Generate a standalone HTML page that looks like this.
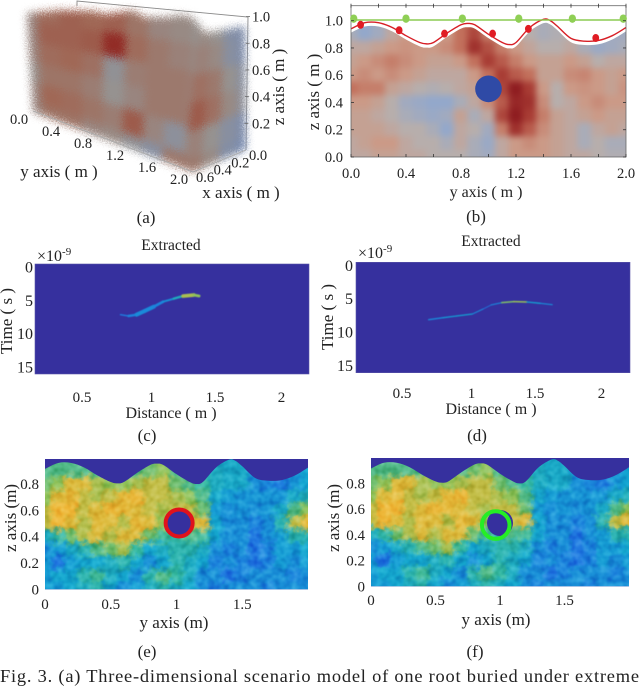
<!DOCTYPE html>
<html lang="en">
<head>
<meta charset="utf-8">
<title>Fig. 3 root detection panels</title>
<style>
html,body{margin:0;padding:0;background:#fff;width:640px;height:686px;overflow:hidden}
svg{display:block}
text{font-family:"Liberation Serif",serif;fill:#222}
</style>
</head>
<body>
<svg id="figure" width="640" height="686" viewBox="0 0 640 686" xmlns="http://www.w3.org/2000/svg">
  <defs>
    <filter id="soft" color-interpolation-filters="sRGB" x="-10%" y="-10%" width="120%" height="120%"><feGaussianBlur stdDeviation="3.2"/></filter>
    <filter id="mottle" color-interpolation-filters="sRGB" x="-10%" y="-10%" width="120%" height="120%">
      <feGaussianBlur in="SourceGraphic" stdDeviation="2" result="b"/>
      <feTurbulence type="fractalNoise" baseFrequency="0.16" numOctaves="3" seed="4" result="n"/>
      <feDisplacementMap in="b" in2="n" scale="11" xChannelSelector="R" yChannelSelector="G" result="d"/>
      <feTurbulence type="fractalNoise" baseFrequency="0.12" numOctaves="2" seed="11" result="m"/>
      <feColorMatrix in="m" type="matrix" values="0.8 0 0 0 0.1  0.8 0 0 0 0.1  0.8 0 0 0 0.1  0 0 0 0 1" result="g"/>
      <feBlend in="g" in2="d" mode="soft-light" result="t"/>
      <feComposite in="t" in2="d" operator="in"/>
    </filter>
    <filter id="grain" color-interpolation-filters="sRGB" x="-10%" y="-10%" width="120%" height="120%">
      <feGaussianBlur in="SourceGraphic" stdDeviation="4" result="b"/>
      <feTurbulence type="fractalNoise" baseFrequency="0.85" numOctaves="2" seed="7" result="n"/>
      <feDisplacementMap in="b" in2="n" scale="11" xChannelSelector="R" yChannelSelector="G"/>
    </filter>
    <filter id="streak" color-interpolation-filters="sRGB" x="-10%" y="-50%" width="120%" height="200%"><feGaussianBlur stdDeviation="0.45"/></filter>
  </defs>

  <g id="panel-a">
    <polyline points="77,6 77,1 248,17 246,150" fill="none" stroke="#8a8a8a" stroke-width="0.9"/>
    <g id="a-cloud" filter="url(#grain)"></g>
    <polyline points="33,111 193,172 246,150" fill="none" stroke="#aaa" stroke-width="0.9"/>
    <g id="a-ticks"></g>
    <text x="59" y="177" font-size="17" text-anchor="middle">y axis ( m )</text>
    <text x="241" y="198" font-size="17" text-anchor="middle">x axis ( m )</text>
    <text transform="translate(284,87) rotate(-90)" font-size="17" text-anchor="middle">z axis ( m )</text>
    <text x="146" y="223" font-size="17" text-anchor="middle">(a)</text>
  </g>

  <g id="panel-b">
    <g id="b-plot"></g>
    <text x="486" y="197" font-size="16" text-anchor="middle">y axis ( m )</text>
    <text x="476" y="222" font-size="17" text-anchor="middle">(b)</text>
    <text transform="translate(319,92) rotate(-90)" font-size="17" text-anchor="middle">z axis ( m )</text>
  </g>

  <g id="panel-c">
    <text x="171" y="250" font-size="15.5" text-anchor="middle">Extracted</text>
    <text x="37" y="261" font-size="16">×10<tspan dy="-6" font-size="11">-9</tspan></text>
    <g id="c-plot"></g>
    <text transform="translate(12,321) rotate(-90)" font-size="17" text-anchor="middle">Time ( s )</text>
    <text x="171" y="418" font-size="16" text-anchor="middle">Distance ( m )</text>
    <text x="147" y="441" font-size="17" text-anchor="middle">(c)</text>
  </g>

  <g id="panel-d">
    <text x="491" y="246" font-size="15.5" text-anchor="middle">Extracted</text>
    <text x="358" y="258" font-size="16">×10<tspan dy="-6" font-size="11">-9</tspan></text>
    <g id="d-plot"></g>
    <text transform="translate(333,317) rotate(-90)" font-size="17" text-anchor="middle">Time ( s )</text>
    <text x="491" y="414" font-size="16" text-anchor="middle">Distance ( m )</text>
    <text x="477" y="441" font-size="17" text-anchor="middle">(d)</text>
  </g>

  <g id="panel-e">
    <g id="e-plot"></g>
    <text transform="translate(16,518) rotate(-90)" font-size="17" text-anchor="middle">z axis (m)</text>
    <text x="174" y="628" font-size="17" text-anchor="middle">y axis (m)</text>
    <text x="147" y="657" font-size="17" text-anchor="middle">(e)</text>
  </g>

  <g id="panel-f">
    <g id="f-plot"></g>
    <text transform="translate(339,518) rotate(-90)" font-size="17" text-anchor="middle">z axis (m)</text>
    <text x="496" y="625" font-size="17" text-anchor="middle">y axis (m)</text>
    <text x="475" y="657" font-size="17" text-anchor="middle">(f)</text>
  </g>

  <text x="0" y="682" font-size="18.4" textLength="639" lengthAdjust="spacing">Fig. 3. (a) Three-dimensional scenario model of one root buried under extreme</text>
</svg>

<script>
/* ---------- data ---------- */
const surfaceY = [0,.1,.2,.3,.4,.5,.55,.6,.7,.8,.85,.9,1,1.1,1.15,1.2,1.3,1.4,1.45,1.5,1.6,1.7,1.8,1.9,2];
const surfaceZ = [.94,.985,.985,.95,.89,.84,.83,.84,.91,.97,.98,.97,.90,.84,.825,.84,.95,1.01,1.0,.96,.87,.85,.855,.89,.95];

const receiverY = [.02,.4,.81,1.22,1.61,1.98];
const receiverZ = [1.015,1.015,1.015,1.015,1.015,1.015];
const pickY = [.07,.35,.68,1.03,1.29,1.78];
const pickZ = [.97,.93,.905,.905,.94,.873];
const rootY = 1.0;
const rootZ = 0.5;
const rootRadius = 0.097;

const soilField = [
 [-.2,-.5,-.3,.1,.3,.3,.3,.3,.6,.7,.5,.3,.2,0,-.2,-.1,0,-.3,-.3,-.3,-.3],
 [-.2,-.5,-.3,.1,.3,.3,.3,.3,.6,.8,.5,.3,.2,0,-.2,-.1,0,-.3,-.3,-.3,-.3],
 [.1,.1,.2,.3,.35,.3,.3,.4,.6,.9,.75,.5,.3,.15,0,0,.1,-.2,-.4,-.3,-.2],
 [.2,.3,.4,.5,.4,.3,.2,.2,.3,.6,.85,.7,.5,.3,.2,.2,.3,.2,0,.1,.1],
 [.3,.4,.3,.4,.3,.2,.1,.1,.1,.3,.6,.85,.7,.6,.2,.2,.4,.45,.3,.2,.3],
 [.6,.5,.5,.2,.1,0,-.1,0,.1,.2,.4,.8,1,.85,.3,0,.3,.35,.3,.2,.35],
 [.3,.3,.2,0,-.3,-.4,-.5,-.5,-.2,.1,.4,.7,.95,.9,.4,0,.1,.3,.4,.3,.3],
 [.2,.2,.1,0,-.2,-.3,-.4,-.3,.2,-.2,.1,.8,1,.85,.5,.2,.1,.2,.3,.2,.2],
 [.2,.2,.2,.1,0,0,-.2,-.5,.1,0,-.3,.5,.9,.7,.4,.2,.1,-.2,.1,.2,.1],
 [.1,.2,.3,.3,.1,0,0,-.2,.1,-.2,-.4,.1,.3,.4,.3,.2,.1,-.2,0,-.2,-.2],
 [.1,.1,.2,.2,.1,.1,0,0,0,-.2,-.3,.1,.3,.3,.3,.2,.1,.1,0,-.1,-.1]
];

const reconField = [
 [.45,.45,.45,.45,.45,.45,.45,.45,.5,.55,.45,.45,.35,.3,.28,.28,.2,.2,.2,.2,.25],
 [.45,.45,.45,.45,.45,.45,.45,.45,.5,.55,.45,.45,.35,.3,.28,.28,.2,.2,.2,.2,.25],
 [.5,.55,.7,.7,.6,.55,.55,.6,.65,.65,.5,.45,.4,.3,.28,.28,.18,.15,.12,.2,.25],
 [.55,.7,.75,.65,.6,.65,.75,.78,.65,.65,.6,.55,.45,.27,.22,.2,.2,.2,.2,.28,.32],
 [.65,.8,.8,.65,.7,.78,.75,.7,.65,.6,.65,.65,.5,.22,.18,.2,.18,.2,.28,.45,.55],
 [.65,.8,.7,.62,.72,.7,.62,.75,.7,.55,.55,.65,.72,.26,.18,.18,.14,.18,.35,.65,.75],
 [.3,.38,.5,.62,.7,.62,.7,.7,.5,.42,.38,.45,.42,.26,.18,.18,.1,.18,.22,.35,.35],
 [.18,.22,.28,.35,.45,.5,.6,.4,.26,.3,.36,.36,.3,.18,.14,.18,.1,.14,.22,.22,.26],
 [.22,.1,.22,.26,.26,.3,.36,.26,.18,.26,.36,.3,.26,.14,.18,.14,.1,.14,.22,.18,.22],
 [.22,.26,.26,.36,.42,.3,.26,.18,.36,.45,.4,.3,.18,.18,.1,.14,.18,.18,.18,.14,.18],
 [.22,.22,.26,.3,.36,.26,.18,.22,.3,.36,.3,.26,.18,.14,.18,.18,.18,.14,.18,.18,.18]
];

const cloudFront = [
 [.15,.45,.55,.5,.55,.35,.15,.1,0],
 [.15,.55,.55,.6,.95,.45,.3,.2,.1],
 [.15,.45,.5,.4,-.1,.25,.3,.3,.2],
 [.05,.35,.35,.25,.0,.15,.3,.3,.2],
 [.15,.5,.45,.35,.25,.6,.15,-.2,0],
 [.15,.35,.35,.15,.1,-.1,-.3,.3,.4]
];
const cloudSide = [
 [.1,0,-.4,-.5],
 [.2,.1,-.3,-.5],
 [.4,.3,0,-.3],
 [.6,.4,.1,-.2],
 [.2,0,-.3,-.5],
 [.3,.1,-.4,-.6]
];

const echoCDist = [.79,.85,.91,.97,1.04,1.11,1.19,1.26,1.34,1.38];
const echoCTime = [7.6,7.8,7.6,7.05,6.4,5.65,5.2,4.8,4.65,4.8];
const echoCAmp = [.1,.12,.15,.18,.14,.14,.22,.4,.8,.3];
const echoCWidth = [.2,.25,.5,.7,.5,.3,.3,.4,.7,.15];

const echoDDist = [.70,.81,.91,1.03,1.11,1.17,1.25,1.34,1.44,1.54,1.63];
const echoDTime = [8.6,8.3,8.05,7.75,7.0,6.4,6.05,5.9,5.95,6.15,6.35];
const echoDAmp = [.14,.18,.25,.22,.1,.1,.2,.85,.28,.2,.14];
const echoDWidth = [.2,.2,.2,.2,.14,.14,.2,.25,.2,.2,.15];

const aYTicks = ["0.0","0.4","0.8","1.2","1.6","2.0"];
const aXTicks = ["0.0","0.2","0.4","0.6"];
const aZTicks = ["0.2","0.4","0.6","0.8","1.0"];
const bYTicks = ["0.0","0.4","0.8","1.2","1.6","2.0"];
const bZTicks = ["0.0","0.2","0.4","0.6","0.8","1.0"];
const bscanDistTicks = ["0.5","1","1.5","2"];
const bscanTimeTicks = ["0","5","10","15"];
const reconYTicks = ["0","0.5","1","1.5"];
const reconZTicks = ["0","0.2","0.4","0.6","0.8"];

/* ---------- helpers ---------- */
const NS = "http://www.w3.org/2000/svg";
function make(parent, tag, attrs) {
  const el = document.createElementNS(NS, tag);
  for (const k in attrs) el.setAttribute(k, attrs[k]);
  parent.appendChild(el);
  return el;
}
function label(parent, x, y, str, anchor, size) {
  const el = make(parent, "text", {x: x, y: y, "text-anchor": anchor, "font-size": size});
  el.textContent = str;
  return el;
}
function ramp(stops, v) {
  if (v <= stops[0][0]) return "rgb(" + stops[0].slice(1).join(",") + ")";
  for (let i = 1; i < stops.length; i++) {
    if (v <= stops[i][0]) {
      const a = stops[i-1], b = stops[i], t = (v - a[0]) / (b[0] - a[0]);
      return "rgb(" + [1,2,3].map(c => Math.round(a[c] + (b[c] - a[c]) * t)).join(",") + ")";
    }
  }
  return "rgb(" + stops[stops.length-1].slice(1).join(",") + ")";
}
const soilStops = [[-.5,147,168,203],[0,183,174,172],[.3,203,154,135],[.6,194,112,92],[.85,168,60,52],[1,142,28,32]];
const cloudStops = [[-.6,122,140,176],[0,150,146,144],[.5,160,104,86],[.95,146,44,38]];
const parulaStops = [[0,53,42,135],[.1,32,120,224],[.25,18,164,208],[.4,53,184,160],[.55,143,194,90],[.7,220,186,60],[.85,245,179,50],[1,249,224,31]];
function smoothPath(pts) {
  let d = "M" + pts[0][0] + " " + pts[0][1];
  for (let i = 0; i < pts.length - 1; i++) {
    const p0 = pts[Math.max(i-1,0)], p1 = pts[i], p2 = pts[i+1], p3 = pts[Math.min(i+2,pts.length-1)];
    d += " C" + (p1[0]+(p2[0]-p0[0])/6) + " " + (p1[1]+(p2[1]-p0[1])/6) + " " +
         (p2[0]-(p3[0]-p1[0])/6) + " " + (p2[1]-(p3[1]-p1[1])/6) + " " + p2[0] + " " + p2[1];
  }
  return d;
}
function surfacePath(sx, sz, offset) {
  return smoothPath(surfaceY.map((y, i) => [sx(y), sz(surfaceZ[i] - offset)]));
}
function addClip(id, d) {
  const defs = document.querySelector("#figure defs");
  const c = make(defs, "clipPath", {id: id});
  make(c, "path", {d: d});
}
function drawField(parent, grid, stops, sx, sz, filterId, name) {
  const g = make(parent, "g", {filter: "url(#" + filterId + ")"});
  
  
  grid.forEach((row, r) => {
    const z = 1 - r * 0.1;
    row.forEach((v, c) => {
      const y = c * 0.1;
      const x0 = sx(y - (c === 0 ? .3 : .05));
      const x1 = sx(y + (c === row.length-1 ? .3 : .05));
      const y0 = sz(z + (r === 0 ? .3 : .05));
      const y1 = sz(z - (r === grid.length-1 ? .3 : .05));
      const cell = make(g, "rect", {x: x0 - .5, y: y0 - .5, width: x1 - x0 + 1, height: y1 - y0 + 1, fill: ramp(stops, v)});
      
      
    });
  });
  return g;
}

/* ---------- panel a ---------- */
(function () {
  const g = document.getElementById("a-cloud");
  const lerp = (a, b, t) => a + (b - a) * t;
  const frontP = (u, v) => [lerp(33, 193, u) + lerp(-6, 12, u) * v, lerp(112, 172, u) + lerp(-100, -139, u) * v];
  const sideP = (u, v) => [lerp(193, 246, u) + lerp(12, -1, u) * v, lerp(172, 150, u) + lerp(-139, -124, u) * v];
  const outline = "M27 13 L60 10 L95 11 L105 14 L135 10 L143 17 L170 17 L185 12 L197 22 L205 33 L245 26 L246 150 L193 172 L33 112 Z";
  addClip("a-clip", outline);
  const inner = make(g, "g", {"clip-path": "url(#a-clip)"});
  
  
  function face(grid, proj) {
    const rows = grid.length, cols = grid[0].length;
    grid.forEach((row, r) => row.forEach((v, c) => {
      const u0 = (c - .55) / (cols - 1), u1 = (c + .55) / (cols - 1);
      const v0 = 1 - (r - .55) / (rows - 1), v1 = 1 - (r + .55) / (rows - 1);
      const pts = [proj(u0, v0), proj(u1, v0), proj(u1, v1), proj(u0, v1)].map(p => p.join(",")).join(" ");
      const cell = make(inner, "polygon", {points: pts, fill: ramp(cloudStops, v)});
      
      
    }));
  }
  face(cloudFront, frontP);
  face(cloudSide, sideP);

  const t = document.getElementById("a-ticks");
  aYTicks.forEach(s => {
    const u = parseFloat(s) / 2;
    const el = label(t, lerp(33, 193, u) - 14, lerp(112, 172, u) + 12, s, "middle", 14.5);
    
    
  });
  aXTicks.forEach(s => {
    const u = parseFloat(s) / .6;
    const el = label(t, lerp(246, 193, u) + 12, lerp(150, 172, u) + 10, s, "middle", 14.5);
    
    
  });
  aZTicks.forEach(s => {
    const z = parseFloat(s);
    const y = 150 - 133.4 * z;
    const tick = make(t, "line", {x1: 244 + 2 * z, y1: y, x2: 248 + 2 * z, y2: y, stroke: "#666", "stroke-width": .8});
    
    
    const el = label(t, 252, y + 5, s, "start", 14.5);
    
    
  });
})();

/* ---------- panel b ---------- */
(function () {
  const g = document.getElementById("b-plot");
  const sx = y => 351 + 137.5 * y;
  const sz = z => 157 - 136.3 * z;
  const soilTop = surfacePath(sx, sz, .028);
  addClip("b-clip", soilTop + " L" + sx(2) + " " + sz(0) + " L" + sx(0) + " " + sz(0) + " Z");
  const clipped = make(g, "g", {"clip-path": "url(#b-clip)"});
  
  
  drawField(clipped, soilField, soilStops, sx, sz, "soft", "panel-b-soil-field");

  const whiteBand = make(g, "path", {d: surfacePath(sx, sz, .016), fill: "none", stroke: "#fff", "stroke-width": 2.2});
  
  
  const redLine = make(g, "path", {d: surfacePath(sx, sz, 0), fill: "none", stroke: "#d71f26", "stroke-width": 1.4});
  
  

  const frame = make(g, "rect", {x: sx(0), y: sz(1.11), width: sx(2) - sx(0), height: sz(0) - sz(1.11), fill: "none", stroke: "#666", "stroke-width": .8});
  
  

  const receiverLine = make(g, "line", {x1: sx(0), y1: sz(1.005), x2: sx(2), y2: sz(1.005), stroke: "#8ccb52", "stroke-width": 1.5});
  
  

  receiverY.forEach((y, i) => {
    const m = make(g, "ellipse", {cx: sx(y), cy: sz(receiverZ[i]), rx: 3.6, ry: 4.2, fill: "#8fcf55"});
    
    
  });
  pickY.forEach((y, i) => {
    const m = make(g, "ellipse", {cx: sx(y), cy: sz(pickZ[i]), rx: 3.4, ry: 4, fill: "#e01c24"});
    
    
  });
  const root = make(g, "circle", {cx: sx(rootY), cy: sz(rootZ), r: rootRadius * 137.5, fill: "#2f4aa6"});
  
  

  for (let k = 0; k <= 10; k++) {
    const x = sx(k * .2);
    const tb = make(g, "line", {x1: x, y1: sz(0) - 3, x2: x, y2: sz(0), stroke: "#333", "stroke-width": .8});
    
    
    const tt = make(g, "line", {x1: x, y1: sz(1.11) - 2, x2: x, y2: sz(1.11) + 2, stroke: "#333", "stroke-width": .8});
    
    
  }
  bYTicks.forEach(s => {
    const el = label(g, sx(parseFloat(s)), 178, s, "middle", 14.5);
    
    
  });
  bZTicks.forEach(s => {
    const y = sz(parseFloat(s));
    const l = make(g, "line", {x1: sx(0), y1: y, x2: sx(0) + 3, y2: y, stroke: "#333", "stroke-width": .8});
    
    
    const r = make(g, "line", {x1: sx(2) - 3, y1: y, x2: sx(2), y2: y, stroke: "#333", "stroke-width": .8});
    
    
    const el = label(g, 343, y + 5, s, "end", 14.5);
    
    
  });
})();

/* ---------- panels c, d ---------- */
function drawBscan(id, box, dist, time, amp, width, tickY, labelRight, prefix) {
  const g = document.getElementById(id);
  const sd = d => box.d05 + (d - .5) * 133;
  const st = t => box.top + t * 6.67;
  const bg = make(g, "rect", {x: box.left, y: box.top, width: box.right - box.left, height: box.bottom - box.top, fill: "#36309e", stroke: "#5a55a8", "stroke-width": .6});
  
  
  const trace = make(g, "g", {filter: "url(#streak)"});
  
  
  for (let i = 0; i < dist.length - 1; i++) {
    const seg = make(trace, "line", {
      x1: sd(dist[i]), y1: st(time[i]), x2: sd(dist[i+1]), y2: st(time[i+1]),
      stroke: ramp(parulaStops, (amp[i] + amp[i+1]) / 2),
      "stroke-width": (width[i] + width[i+1]) / 2 * 6.67,
      "stroke-linecap": "round"
    });
    
    
  }
  bscanDistTicks.forEach(s => {
    const el = label(g, sd(parseFloat(s)) + (s === "1" ? 3 : 0), tickY, s, "middle", 15);
    
    
  });
  bscanTimeTicks.forEach(s => {
    const el = label(g, labelRight, st(parseFloat(s)) + 8.5, s, "end", 16);
    
    
  });
}
drawBscan("c-plot", {left: 35, right: 309, top: 264, bottom: 374, d05: 82}, echoCDist, echoCTime, echoCAmp, echoCWidth, 402, 33, "panel-c");
drawBscan("d-plot", {left: 356, right: 630, top: 262.3, bottom: 372.7, d05: 402}, echoDDist, echoDTime, echoDAmp, echoDWidth, 398, 353, "panel-d");

/* ---------- panels e, f ---------- */
function drawRecon(id, box, rings, yLabelY, zLabelRight, prefix) {
  const g = document.getElementById(id);
  const sx = y => box.x0 + box.kx * y;
  const sz = z => box.z0 - box.kz * z;
  const bg = make(g, "rect", {x: sx(0), y: box.top, width: sx(2) - sx(0), height: box.z0 - box.top, fill: "#36309e"});
  
  
  const top = surfacePath(sx, sz, .025);
  addClip(prefix + "-clip", top + " L" + sx(2) + " " + sz(0) + " L" + sx(0) + " " + sz(0) + " Z");
  const clipped = make(g, "g", {"clip-path": "url(#" + prefix + "-clip)"});
  
  
  drawField(clipped, reconField, parulaStops, sx, sz, "mottle", prefix + "-soil-field");

  const root = make(g, "circle", {cx: rings.rootX, cy: rings.rootY, r: rings.rootR, fill: "#36309e"});
  
  
  const ring = make(g, "circle", {cx: sx(rings.y), cy: sz(rings.z), r: rings.r, fill: "none", stroke: rings.color, "stroke-width": 4});
  
  

  reconYTicks.forEach(s => {
    const el = label(g, sx(parseFloat(s)), yLabelY, s, "middle", 15);
    
    
  });
  reconZTicks.forEach(s => {
    const el = label(g, zLabelRight, sz(parseFloat(s)) + 5, s, "end", 15);
    
    
  });
}
drawRecon("e-plot", {x0: 45, kx: 131.5, z0: 589.3, kz: 131.6, top: 459},
  {y: 1.02, z: .504, r: 13.5, color: "#e0121c", rootX: 179, rootY: 523, rootR: 12}, 609, 39, "panel-e");
drawRecon("f-plot", {x0: 371, kx: 129, z0: 586.3, kz: 128.7, top: 458},
  {y: .967, z: .476, r: 13.8, color: "#25ee25", rootX: 500, rootY: 523, rootR: 13}, 605, 365, "panel-f");
</script>
</body>
</html>
